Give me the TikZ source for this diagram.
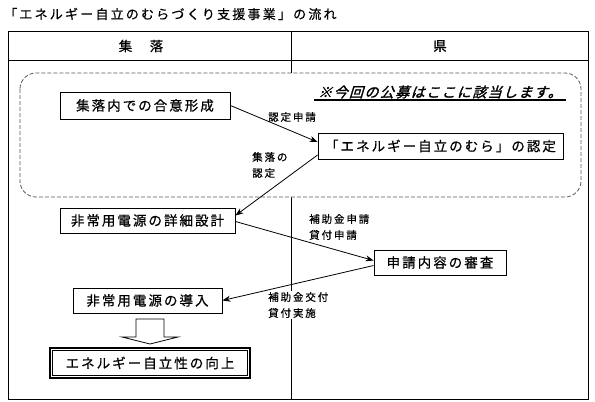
\documentclass[tikz,border=0pt]{standalone}
\usepackage{fontspec}
\setmainfont{Noto Sans CJK JP}[FakeBold=0.6]
\newfontfamily\notefont{Noto Sans CJK JP}[FakeSlant=0.3, FakeBold=1.6]
\usetikzlibrary{arrows.meta,calc}
\newcommand\boxfont{\fontsize{13.5}{15}\selectfont\addfontfeatures{LetterSpace=15}}
\newcommand\lblfont{\fontsize{10.5}{16}\selectfont\addfontfeatures{LetterSpace=18}}
\tikzset{
 box/.style={draw, line width=0.9pt, fill=white, inner sep=0pt, font=\boxfont},
 lbl/.style={inner sep=1pt, font=\lblfont, align=left, anchor=west},
 conn/.style={line width=0.8pt, -{Stealth[length=8pt,width=6pt]}},
 hdr/.style={inner sep=0pt, font=\boxfont},
}
\begin{document}
\begin{tikzpicture}[x=1pt,y=-1pt]
\useasboundingbox (0,0) rectangle (595,402);
% title
\node[anchor=west, inner sep=0pt, font={\fontsize{13}{15}\selectfont\addfontfeatures{LetterSpace=17}}] (title) at (4,14) {「エネルギー自立のむらづくり支援事業」の流れ};
% table
\draw[line width=0.9pt] (8,31) rectangle (588,399);
\draw[line width=0.9pt] (8,60) -- (588,60);
\draw[line width=0.9pt] (291,31) -- (291,399);
\node[hdr] (h1) at (141,46) {集　落};
\node[hdr] (h2) at (440,46) {県};
% dashed region
\draw[dashed, dash pattern=on 4pt off 2pt, line width=0.8pt, draw=black!65, fill=white, rounded corners=16pt] (20,73) rectangle (581,197);
% note
\node[inner sep=0pt, font={\notefont\fontsize{14}{15}\selectfont\addfontfeatures{LetterSpace=10}}] (note) at (440,92) {※今回の公募はここに該当します。};
\coordinate (ulA) at (314,100);
\coordinate (ulB) at (566,100);
\draw[line width=1.1pt, black] (ulA) -- (ulB);
% boxes
\node[box, minimum width=170pt, minimum height=27pt] (gou) at (145,105.5) {集落内での合意形成};
\node[box, minimum width=245pt, minimum height=26pt] (nintei) at (440.5,146) {「エネルギー自立のむら」の認定};
\node[box, minimum width=175pt, minimum height=25pt] (detail) at (147.5,220.5) {非常用電源の詳細設計};
\node[box, minimum width=132pt, minimum height=25pt] (shinsa) at (440,262.5) {申請内容の審査};
\node[box, minimum width=149pt, minimum height=25pt] (dounyu) at (147.5,300.5) {非常用電源の導入};
\node[box, minimum width=200pt, minimum height=30pt, line width=1.1pt] (jiritsu) at (150,363) {エネルギー自立性の向上};
\draw[line width=0.6pt] ($(jiritsu.north west)+(3,3)$) rectangle ($(jiritsu.south east)+(-3,-3)$);
% hollow arrow
\draw[line width=0.8pt, fill=white] (136,319) -- (164,319) -- (164,337) -- (178,337) -- (150,344) -- (122,337) -- (136,337) -- cycle;
% connectors
\draw[conn] (gou.east) -- ([yshift=4pt]nintei.west);
\draw[conn] ([yshift=-9pt]nintei.west) -- ([yshift=5pt]detail.east);
\draw[conn] ([yshift=-1pt]detail.east) -- ([yshift=2pt]shinsa.west);
\draw[conn] ([yshift=-3pt]shinsa.west) -- (dounyu.east);
% labels
\node[lbl] (l1) at (267,117) {認定申請};
\node[lbl] (l2) at (251,165) {集落の\\認定};
\node[lbl] (l3) at (308,227) {補助金申請\\貸付申請};
\node[lbl, fill=white] (l4) at (267,305) {補助金交付\\貸付実施};
\end{tikzpicture}
\end{document}
